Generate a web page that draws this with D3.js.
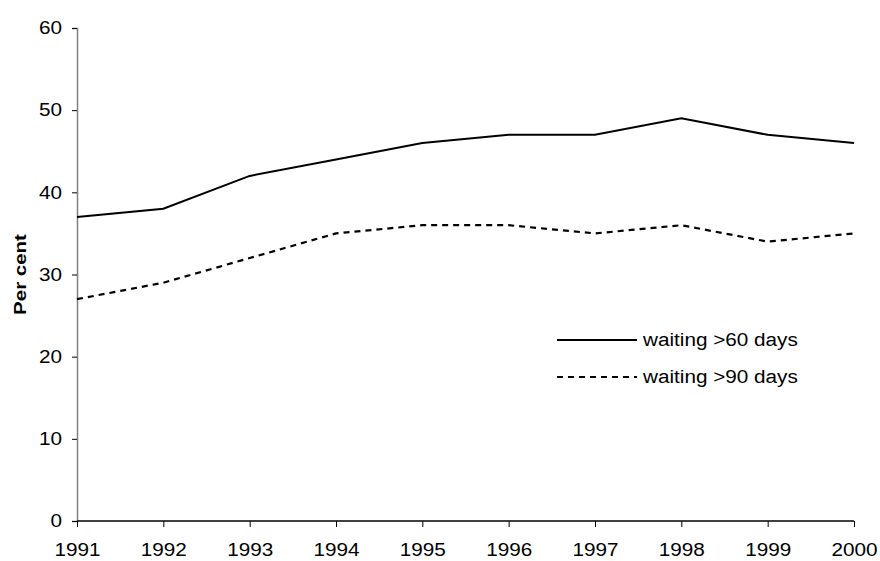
<!DOCTYPE html>
<html lang="en">
<head>
  <meta charset="UTF-8">
  <title>Waiting times</title>
  <script src="https://d3js.org/d3.v7.min.js"></script>
  <style>
    body { margin: 0; background: #fff; }
    text { font-family: "Liberation Sans", Arial, sans-serif; }
  </style>
</head>
<body>
<script>
  // data
  const years = [1991, 1992, 1993, 1994, 1995, 1996, 1997, 1998, 1999, 2000];
  const over60 = [37, 38, 42, 44, 46, 47, 47, 49, 47, 46];
  const over90 = [27, 29, 32, 35, 36, 36, 35, 36, 34, 35];
  const yTicks = [0, 10, 20, 30, 40, 50, 60];
  const seriesNames = ["waiting >60 days", "waiting >90 days"];

  const width = 880, height = 561;
  const fontSize = 18;
  const stretch = 1.15; // the original font is drawn a bit wider than Arial

  const svg = d3.select('body').append('svg')
    .attr('width', width)
    .attr('height', height);

  const x = d3.scalePoint().domain(years).range([77, 854]);
  const y = d3.scaleLinear().domain([0, 60]).range([521, 28]);

  // widen a text element without moving its anchor
  function widen(sel, k) {
    sel.each(function() {
      const len = this.getComputedTextLength();
      d3.select(this)
        .attr('textLength', len * k)
        .attr('lengthAdjust', 'spacingAndGlyphs');
    });
  }

  // y axis
  const yAxis = svg.append('g')
    .attr('transform', 'translate(77,0)')
    .call(d3.axisLeft(y).tickValues(yTicks).tickSize(5).tickPadding(10));
  yAxis.select('.domain').attr('stroke', '#808080').attr('stroke-width', 1.5);
  yAxis.selectAll('.tick line').attr('stroke', '#000');
  yAxis.selectAll('text').attr('font-size', fontSize).attr('fill', '#000')
    .attr('font-family', '"Liberation Sans", Arial, sans-serif')
    .call(widen, stretch);

  // x axis
  const xAxis = svg.append('g')
    .attr('transform', 'translate(0,521)')
    .call(d3.axisBottom(x).tickSize(6).tickPadding(16).tickFormat(d3.format('d')));
  xAxis.select('.domain').attr('d', 'M77,0H854').attr('stroke', '#000').attr('stroke-width', 1.5);
  xAxis.selectAll('.tick line').attr('stroke', '#000');
  xAxis.selectAll('text').attr('font-size', fontSize).attr('fill', '#000')
    .attr('font-family', '"Liberation Sans", Arial, sans-serif')
    .call(widen, stretch);

  // y label
  svg.append('text')
    .attr('transform', 'translate(20,' + y(30) + ') rotate(-90)')
    .attr('text-anchor', 'middle')
    .attr('dy', '0.35em')
    .attr('font-size', 16)
    .attr('font-weight', 'bold')
    .text('Per cent')
    .call(widen, 1.28);

  const line = d3.line()
    .x((d, i) => x(years[i]))
    .y(d => y(d));

  svg.append('path')
    .datum(over60)
    .attr('d', line)
    .attr('fill', 'none')
    .attr('stroke', '#000')
    .attr('stroke-width', 2);

  svg.append('path')
    .datum(over90)
    .attr('d', line)
    .attr('fill', 'none')
    .attr('stroke', '#000')
    .attr('stroke-width', 2.2)
    .attr('stroke-dasharray', '6,5');

  // legend
  const legend = svg.append('g').attr('transform', 'translate(557,340)');
  const dashes = [null, '6,5'];
  seriesNames.forEach((name, i) => {
    const g = legend.append('g').attr('transform', 'translate(0,' + (i * 37) + ')');
    g.append('line')
      .attr('x1', 0).attr('x2', 80)
      .attr('stroke', '#000')
      .attr('stroke-width', 2)
      .attr('stroke-dasharray', dashes[i]);
    g.append('text')
      .attr('x', 86)
      .attr('y', 6)
      .attr('font-size', fontSize)
      .text(name)
      .call(widen, stretch);
  });
</script>
</body>
</html>
